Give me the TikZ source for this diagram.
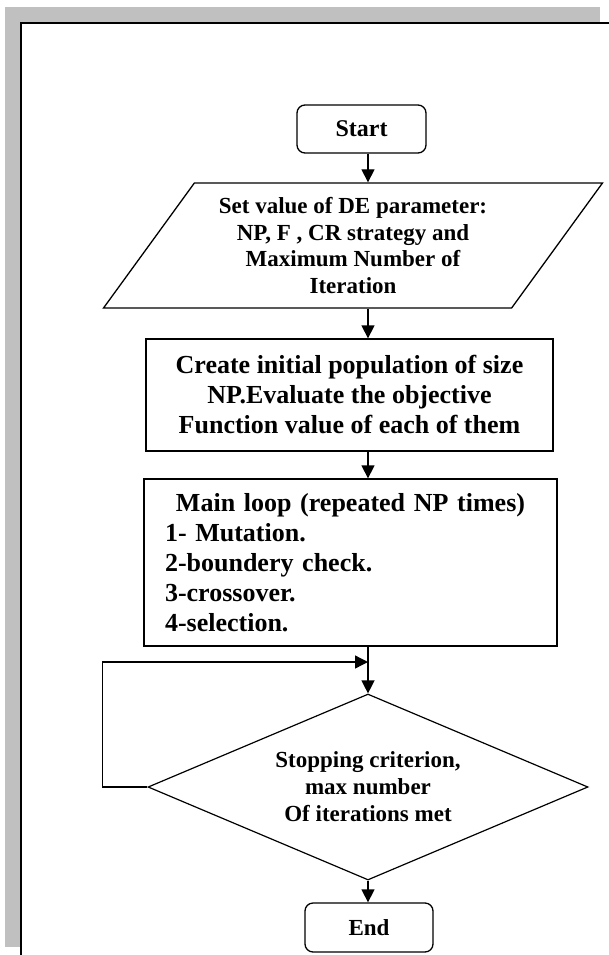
\documentclass[tikz,border=0pt]{standalone}
\usepackage{fontspec}
\setmainfont{Liberation Serif}
\usetikzlibrary{shapes.geometric,arrows.meta}

\begin{document}
\begin{tikzpicture}[x=1pt, y=-1pt]
		\tikzstyle{Term}	= [rectangle, rounded corners=8pt, draw, line width=1.3pt, inner sep=0pt, align=center]
		\tikzstyle{Data}	= [trapezium, trapezium left angle=51.3, trapezium right angle=128.7, trapezium stretches=true, draw, line width=1.3pt, inner sep=0pt, align=center, font=\fontsize{23}{26.5}\selectfont\bfseries]
		\tikzstyle{Proc}	= [rectangle, draw, line width=1.3pt, inner sep=0pt, font=\fontsize{26}{30}\selectfont\bfseries]
		\tikzstyle{Cond}	= [diamond, aspect=2.37, draw, line width=1.2pt, inner sep=0pt, align=center, font=\fontsize{23}{27}\selectfont\bfseries]
		\tikzstyle{Arr}		= [-{Triangle[width=13pt, length=13pt]}, line width=1.3pt]
		\definecolor{Shade}{RGB}{192,192,192}

		\useasboundingbox (0,0) rectangle (609,955);

		% page frame
		\fill[Shade] (5,7) rectangle (600,22);
		\fill[Shade] (5,7) rectangle (20,947);
		\draw[line width=1.8pt] (21,955) -- (21,23) -- (609,23);

		\coordinate (ax) at (368,0);
		\coordinate (jn) at (368,662);

		\node (st) at (361.5,129) [Term, minimum width=129pt, minimum height=48pt, font=\fontsize{24}{28}\selectfont\bfseries] {Start};
		\node (par) at (353,245.5) [Data, minimum width=500pt, minimum height=125pt] {Set value of DE parameter:\\NP, F , CR strategy and\\Maximum Number of\\Iteration};
		\node (ini) at (349.5,395) [Proc, align=center, minimum width=407pt, minimum height=112pt] {Create initial population of size\\ NP.Evaluate the objective\\Function value of each of them};
		\node (ml) at (350.5,562.5) [Proc, align=left, text width=371pt, inner xsep=21pt, minimum height=167pt] {\hfill Main loop (repeated NP times)\hfill\null\\1- Mutation.\\2-boundery check.\\3-crossover.\\4-selection.};
		\node (sc) at (368,787) [Cond, minimum width=440pt, minimum height=186pt] {Stopping criterion,\\max number\\Of iterations met};
		\node (en) at (369,927.5) [Term, minimum width=128pt, minimum height=49pt, font=\fontsize{23}{27}\selectfont\bfseries] {End};

		\draw [Arr] (st.south -| ax) to (par.north -| ax);
		\draw [Arr] (par.south -| ax) to (ini.north -| ax);
		\draw [Arr] (ini.south -| ax) to (ml.north -| ax);
		\draw [Arr] (ml.south -| ax) to (sc.north);
		\draw [Arr] (sc.west) -- ++(-45,0) |- (jn);
		\draw [Arr] (sc.south) to (sc.south |- en.north);
	\end{tikzpicture}
\end{document}
